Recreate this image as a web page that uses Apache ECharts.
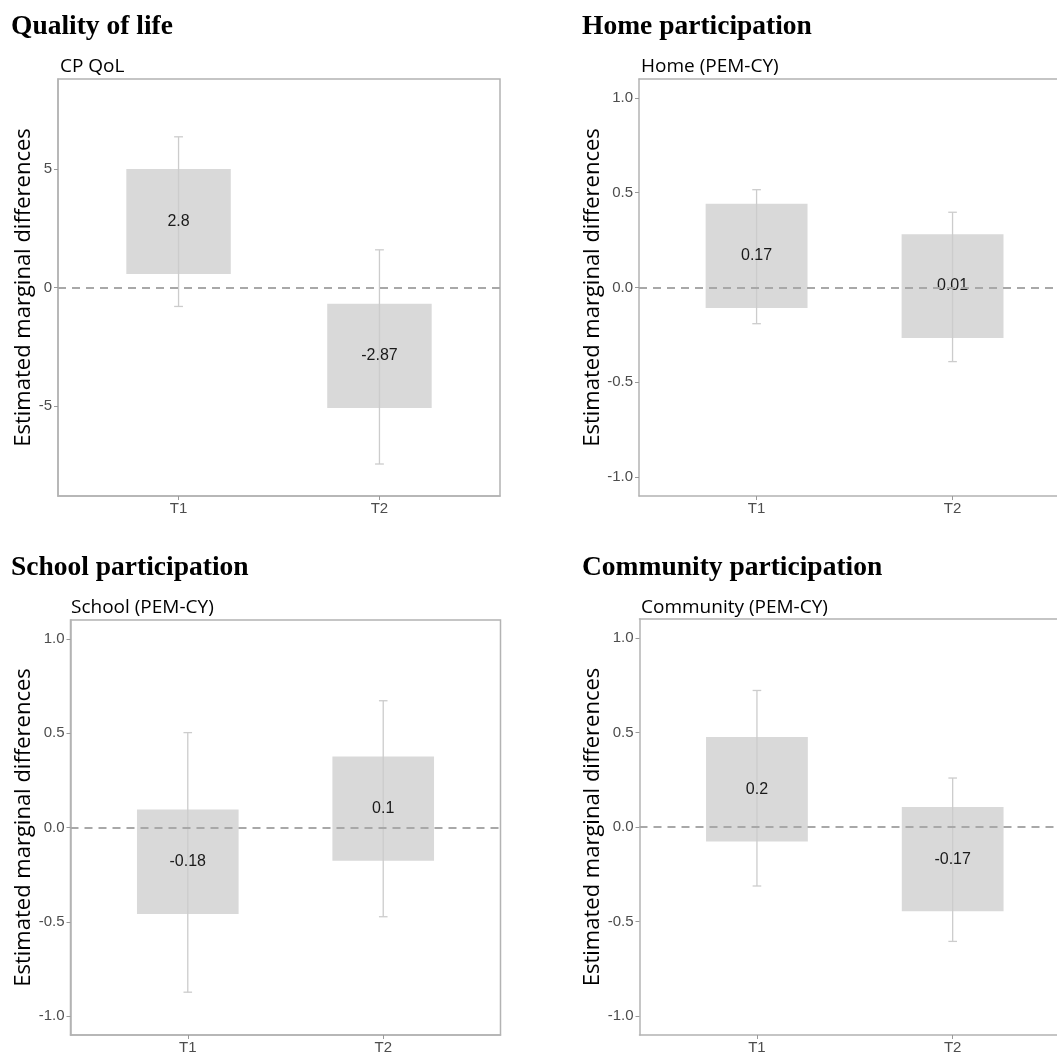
<!DOCTYPE html>
<html>
<head>
<meta charset="utf-8">
<script src="https://cdn.jsdelivr.net/npm/echarts@6/dist/echarts.min.js"></script>
<style>
  html, body { margin: 0; padding: 0; background: #ffffff; }
  #chart { width: 1057px; height: 1055px; }
</style>
</head>
<body>
<div id="chart"></div>
<script>
// Time points on the x axis
const categories = ['T1', 'T2'];

// Panel headings and plot subtitles
const headings = ['Quality of life', 'Home participation', 'School participation', 'Community participation'];
const subtitles = ['CP QoL', 'Home (PEM-CY)', 'School (PEM-CY)', 'Community (PEM-CY)'];

// Estimated marginal differences (labelled value) per time point
const qolEstimate = [2.8, -2.87];
const qolBoxLow = [0.57, -5.09];
const qolBoxHigh = [5.0, -0.69];
const qolCiLow = [-0.8, -7.45];
const qolCiHigh = [6.36, 1.59];

const homeEstimate = [0.17, 0.01];
const homeBoxLow = [-0.108, -0.266];
const homeBoxHigh = [0.442, 0.281];
const homeCiLow = [-0.191, -0.391];
const homeCiHigh = [0.516, 0.397];

const schoolEstimate = [-0.18, 0.1];
const schoolBoxLow = [-0.459, -0.176];
const schoolBoxHigh = [0.095, 0.376];
const schoolCiLow = [-0.873, -0.473];
const schoolCiHigh = [0.503, 0.672];

const communityEstimate = [0.2, -0.17];
const communityBoxLow = [-0.077, -0.446];
const communityBoxHigh = [0.476, 0.106];
const communityCiLow = [-0.312, -0.605];
const communityCiHigh = [0.722, 0.259];

// Y axis tick values and their text
const qolTicks = [-5, 0, 5];
const qolTickLabels = ['-5', '0', '5'];
const pemTicks = [-1, -0.5, 0, 0.5, 1];
const pemTickLabels = ['-1.0', '-0.5', '0.0', '0.5', '1.0'];

const panels = [
  { est: qolEstimate, lo: qolBoxLow, hi: qolBoxHigh, ciLo: qolCiLow, ciHi: qolCiHigh,
    ticks: qolTicks, tickLabels: qolTickLabels, range: 8.8 },
  { est: homeEstimate, lo: homeBoxLow, hi: homeBoxHigh, ciLo: homeCiLow, ciHi: homeCiHigh,
    ticks: pemTicks, tickLabels: pemTickLabels, range: 1.1 },
  { est: schoolEstimate, lo: schoolBoxLow, hi: schoolBoxHigh, ciLo: schoolCiLow, ciHi: schoolCiHigh,
    ticks: pemTicks, tickLabels: pemTickLabels, range: 1.1 },
  { est: communityEstimate, lo: communityBoxLow, hi: communityBoxHigh, ciLo: communityCiLow, ciHi: communityCiHigh,
    ticks: pemTicks, tickLabels: pemTickLabels, range: 1.1 }
];

// Layout of the four plot areas; the right-hand plots are cut by the page edge,
// so their x range stops where the page ends and no right border is drawn.
const grids = [
  { left: 58, top: 79, width: 442, height: 417 },
  { left: 639, top: 79, right: 0, height: 417 },
  { left: 70.5, top: 620, width: 430, height: 416 },
  { left: 639.5, top: 619, right: 0, height: 416.5 }
];
const xMax = [2.6, 2.533, 2.6, 2.533];
const cutRight = [false, true, false, true];
const nameGaps = [20, 33.5, 33.5, 33.5];
const headingPos = [[11, 13], [582, 13], [11, 554], [582, 554]];
const subtitlePos = [[60, 57], [641, 57], [71, 598], [641, 598]];

const BOX_HALF = 0.26;
const CAP_HALF = 0.022;
const AXIS_GREY = '#b3b3b3';
const TICK_FONT = '"Liberation Sans", Arial, sans-serif';

function renderItem(params, api) {
  const x = api.value(0);
  const est = api.value(1);
  const a = api.coord([x - BOX_HALF, api.value(3)]);
  const b = api.coord([x + BOX_HALF, api.value(2)]);
  const top = api.coord([x, api.value(5)]);
  const bot = api.coord([x, api.value(4)]);
  const capL = api.coord([x - CAP_HALF, 0])[0];
  const capR = api.coord([x + CAP_HALF, 0])[0];
  const mid = api.coord([x, est]);
  const errStyle = { stroke: '#cccccc', lineWidth: 1.3 };
  return {
    type: 'group',
    children: [
      { type: 'rect', shape: { x: a[0], y: a[1], width: b[0] - a[0], height: b[1] - a[1] },
        style: { fill: '#d9d9d9' } },
      { type: 'line', shape: { x1: top[0], y1: top[1], x2: bot[0], y2: bot[1] }, style: errStyle },
      { type: 'line', shape: { x1: capL, y1: top[1], x2: capR, y2: top[1] }, style: errStyle },
      { type: 'line', shape: { x1: capL, y1: bot[1], x2: capR, y2: bot[1] }, style: errStyle },
      { type: 'text', z2: 10, style: { x: mid[0], y: mid[1], text: String(est),
          align: 'center', verticalAlign: 'middle',
          fill: '#1a1a1a', font: '16px "Liberation Sans", Arial, sans-serif' } }
    ]
  };
}

const option = {
  backgroundColor: '#ffffff',
  animation: false,
  title: [],
  grid: [],
  xAxis: [],
  yAxis: [],
  series: []
};

panels.forEach((p, i) => {
  option.title.push({
    text: headings[i], left: headingPos[i][0], top: headingPos[i][1], padding: 0,
    textStyle: { fontFamily: '"Liberation Serif", "Times New Roman", serif', fontWeight: 'bold',
                 fontSize: 27.5, color: '#000000' }
  });
  option.title.push({
    text: subtitles[i], left: subtitlePos[i][0], top: subtitlePos[i][1], padding: 0,
    textStyle: { fontFamily: '"Open Sans", sans-serif', fontWeight: 'normal',
                 fontSize: 19, color: '#000000' }
  });
  option.grid.push(Object.assign({ show: !cutRight[i], borderColor: AXIS_GREY, borderWidth: 1.5,
                                   backgroundColor: 'transparent', containLabel: false }, grids[i]));
  option.xAxis.push({
    type: 'value', gridIndex: i, position: 'bottom', min: 0.4, max: xMax[i],
    axisLine: { show: true, onZero: false, lineStyle: { color: AXIS_GREY, width: 1.5 } },
    axisTick: { show: true, length: 4, customValues: [1, 2], lineStyle: { color: '#999999' } },
    axisLabel: { customValues: [1, 2], margin: 5, color: '#4d4d4d', fontSize: 15,
                 fontFamily: TICK_FONT,
                 formatter: v => categories[Math.round(v) - 1] },
    splitLine: { show: false }
  });
  option.yAxis.push({
    type: 'value', gridIndex: i, position: 'left', min: -p.range, max: p.range,
    name: 'Estimated marginal differences', nameLocation: 'middle', nameGap: nameGaps[i],
    nameRotate: 90,
    nameTextStyle: { fontFamily: '"Open Sans", sans-serif', fontSize: 22, color: '#000000' },
    axisLine: { show: true, onZero: false, lineStyle: { color: AXIS_GREY, width: 1.5 } },
    axisTick: { show: true, length: 4, customValues: p.ticks, lineStyle: { color: '#999999' } },
    axisLabel: { customValues: p.ticks, margin: 6, color: '#4d4d4d', fontSize: 15,
                 fontFamily: TICK_FONT,
                 formatter: v => p.tickLabels[p.ticks.findIndex(t => Math.abs(t - v) < 1e-9)] },
    splitLine: { show: false }
  });
  const data = categories.map((c, k) => [k + 1, p.est[k], p.lo[k], p.hi[k], p.ciLo[k], p.ciHi[k]]);
  option.series.push({
    type: 'custom', xAxisIndex: i, yAxisIndex: i, renderItem: renderItem,
    data: data, encode: { x: 0, y: [2, 3, 4, 5] }, clip: false, z: 2,
    markLine: {
      silent: true, symbol: 'none', z: 5, label: { show: false },
      lineStyle: { color: '#a8a8a8', type: [8, 6], width: 2 },
      data: [{ yAxis: 0 }]
    }
  });
});

// Top border line for the plots whose frame is cut on the right
panels.forEach((p, i) => {
  if (!cutRight[i]) return;
  option.xAxis.push({
    type: 'value', gridIndex: i, position: 'top', min: 0.4, max: xMax[i],
    axisLine: { show: true, onZero: false, lineStyle: { color: AXIS_GREY, width: 1.5 } },
    axisTick: { show: false }, axisLabel: { show: false }, splitLine: { show: false }
  });
});

const chart = echarts.init(document.getElementById('chart'), null, { renderer: 'canvas' });
chart.setOption(option);
</script>
</body>
</html>
